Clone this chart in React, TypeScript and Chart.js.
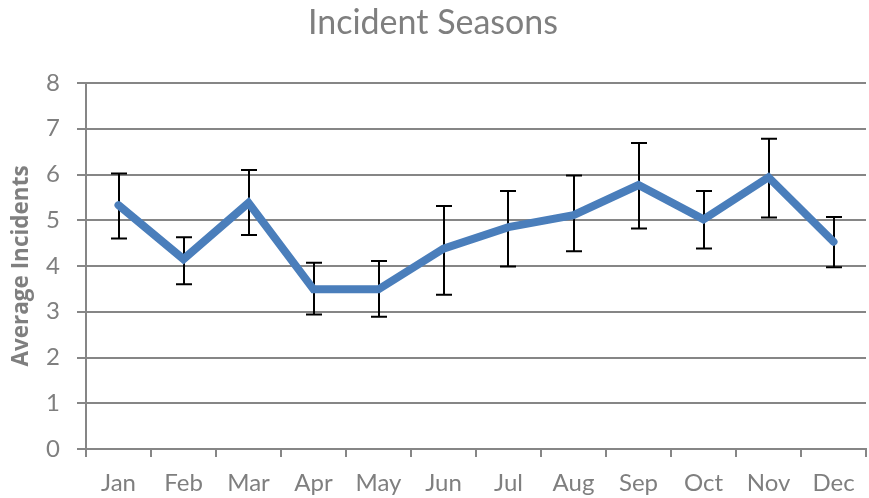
import React, { useEffect, useRef } from "react";
import { Chart, registerables } from "chart.js";

Chart.register(...registerables);

const months = ["Jan", "Feb", "Mar", "Apr", "May", "Jun", "Jul", "Aug", "Sep", "Oct", "Nov", "Dec"];
const averages = [5.33, 4.15, 5.38, 3.49, 3.49, 4.38, 4.85, 5.11, 5.77, 5.02, 5.94, 4.53];
const upperBounds = [6.02, 4.63, 6.1, 4.07, 4.11, 5.31, 5.64, 5.98, 6.69, 5.64, 6.78, 5.07];
const lowerBounds = [4.6, 3.6, 4.68, 2.94, 2.89, 3.37, 3.99, 4.32, 4.82, 4.38, 5.06, 3.97];

const GRAY = "#868686";
const TEXT = "#7f7f7f";
const FONT = "Lato, 'Open Sans', sans-serif";

const errorBarPlugin = {
  id: "errorBars",
  beforeDatasetsDraw(chart: any) {
    const ctx = chart.ctx;
    const xs = chart.scales.x;
    const ys = chart.scales.y;
    ctx.save();
    ctx.strokeStyle = "#000000";
    ctx.lineWidth = 2;
    const half = 8;
    for (let i = 0; i < months.length; i++) {
      const x = Math.round(xs.getPixelForValue(i));
      const yt = ys.getPixelForValue(upperBounds[i]);
      const yb = ys.getPixelForValue(lowerBounds[i]);
      ctx.beginPath();
      ctx.moveTo(x, yt);
      ctx.lineTo(x, yb);
      ctx.moveTo(x - half, yt);
      ctx.lineTo(x + half, yt);
      ctx.moveTo(x - half, yb);
      ctx.lineTo(x + half, yb);
      ctx.stroke();
    }
    ctx.restore();
  },
};

export default function App() {
  const ref = useRef<HTMLCanvasElement | null>(null);
  useEffect(() => {
    if (!ref.current) return;
    const chart = new Chart(ref.current, {
      type: "line",
      data: {
        labels: months,
        datasets: [
          {
            data: averages,
            borderColor: "#4a7ebb",
            backgroundColor: "#4a7ebb",
            borderWidth: 8,
            borderCapStyle: "round",
            borderJoinStyle: "miter",
            pointRadius: 0,
            tension: 0,
            fill: false,
          },
        ],
      },
      options: {
        responsive: false,
        animation: false,
        layout: { padding: { left: 0, right: 3, top: 0, bottom: 0 } },
        plugins: {
          legend: { display: false },
          tooltip: { enabled: false },
          title: {
            display: true,
            text: "Incident Seasons",
            color: TEXT,
            font: { family: FONT, size: 34, weight: "normal" },
            padding: { top: 2.6, bottom: 39.6 },
          },
        },
        scales: {
          x: {
            type: "category",
            offset: true,
            grid: {
              offset: true,
              drawOnChartArea: false,
              drawTicks: true,
              tickLength: 8,
              color: GRAY,
              lineWidth: 2,
            },
            border: { color: GRAY, width: 2 },
            ticks: {
              color: TEXT,
              font: { family: FONT, size: 24 },
              padding: 12,
              maxRotation: 0,
            },
            afterFit: (s: any) => {
              s.height = 49;
            },
          },
          y: {
            min: 0,
            max: 8,
            ticks: {
              stepSize: 1,
              color: TEXT,
              font: { family: FONT, size: 24 },
              padding: 17,
            },
            grid: { color: GRAY, lineWidth: 2, tickLength: 9 },
            border: { color: GRAY, width: 2 },
            title: {
              display: true,
              text: "Average Incidents",
              color: TEXT,
              font: { family: "'Open Sans', sans-serif", size: 22.5, weight: "bold" },
              padding: { top: 8, bottom: 0 },
            },
            afterFit: (s: any) => {
              s.width = 86;
            },
          },
        },
      },
      plugins: [errorBarPlugin],
    });
    return () => chart.destroy();
  }, []);
  return (
    <canvas
      ref={ref}
      width={869}
      height={498}
      style={{ position: "absolute", left: 0, top: 0, width: 869, height: 498 }}
    />
  );
}
